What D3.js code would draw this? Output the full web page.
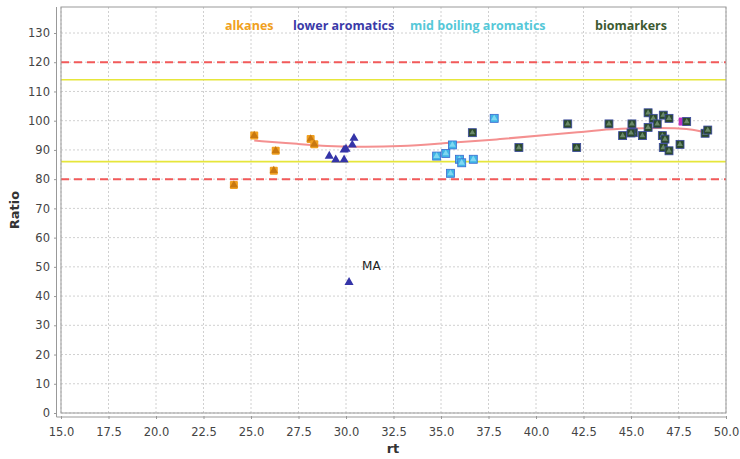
<!DOCTYPE html>
<html><head><meta charset="utf-8">
<script src="https://cdn.jsdelivr.net/npm/d3@7"></script>
<style>body{margin:0;background:#fff;font-family:"DejaVu Sans",sans-serif}</style>
</head><body><svg id="c" width="740" height="459"></svg>
<script>
const xTicks = [15.0,17.5,20.0,22.5,25.0,27.5,30.0,32.5,35.0,37.5,40.0,42.5,45.0,47.5,50.0];
const yTicks = [0,10,20,30,40,50,60,70,80,90,100,110,120,130];
const seriesNames = ["alkanes","lower aromatics","mid boiling aromatics","biomarkers"];
const seriesColors = ["#f0a020","#3a3aa8","#55c8d8","#3c5a30"];
const alkanes = [[24.1,78],[25.17,94.9],[26.3,89.7],[26.2,82.9],[28.14,93.7],[28.33,91.9]];
const lowerAromatics = [[29.12,87.9],[29.46,86.6],[29.9,86.6],[29.9,90],[30.0,90.3],[30.33,91.7],[30.42,94],[30.16,44.7]];
const midAromatics = [[34.77,87.9],[35.25,88.8],[35.6,91.7],[35.5,82],[35.97,86.8],[36.09,85.6],[36.7,86.8],[37.8,100.8]];
const biomarkers = [[36.65,95.9],[39.1,90.8],[41.67,98.9],[42.14,90.8],[43.84,98.9],[44.56,94.9],[45.05,98.9],[45.12,95.9],[45.0,95.8],[45.6,94.9],[45.9,102.7],[45.9,97.7],[46.17,100.8],[46.38,98.9],[46.7,101.9],[47.0,100.8],[46.65,94.9],[46.79,93.7],[46.7,90.8],[47.0,89.7],[47.58,91.9],[47.93,99.7],[48.9,95.7],[49.04,96.8]];
const otherPoints = [[47.72,99.7]];
const trend = [[25.17,93.2],[27.6,92.0],[29.0,91.3],[30.5,91.0],[32.8,91.1],[35.5,92.5],[38.1,93.6],[40.7,95.3],[42.3,96.0],[43.2,96.8],[44.95,97.4],[46.5,97.5],[47.6,97.4],[48.26,97.0],[48.8,96.2]];
const limitsRed = [80,120];
const limitsYellow = [86,114];
const annotation = {label:"MA", x:30.16, y:44.7};

const svg = d3.select("#c");
const L=61,R=726,T=7,B=413;
const x = d3.scaleLinear().domain([15,50]).range([L,R]);
const y = d3.scaleLinear().domain([0,130]).range([B,33]);

svg.append("rect").attr("x",L).attr("y",T).attr("width",R-L).attr("height",B-T).attr("fill","#fff");
svg.append("g").selectAll("line").data(xTicks).join("line")
  .attr("x1",d=>x(d)).attr("x2",d=>x(d)).attr("y1",T).attr("y2",B)
  .attr("stroke","#d0d0d0").attr("stroke-dasharray","2,2");
svg.append("g").selectAll("line").data(yTicks).join("line")
  .attr("y1",d=>y(d)).attr("y2",d=>y(d)).attr("x1",L).attr("x2",R)
  .attr("stroke","#d0d0d0").attr("stroke-dasharray","2,2");

svg.append("g").selectAll("line").data(limitsYellow).join("line")
  .attr("x1",L).attr("x2",R).attr("y1",d=>y(d)).attr("y2",d=>y(d))
  .attr("stroke","#e6e63a").attr("stroke-width",1.6);
svg.append("g").selectAll("line").data(limitsRed).join("line")
  .attr("x1",L).attr("x2",R).attr("y1",d=>y(d)).attr("y2",d=>y(d))
  .attr("stroke","#f25a5a").attr("stroke-width",2).attr("stroke-dasharray","8,5");

svg.append("rect").attr("x",L).attr("y",T).attr("width",R-L).attr("height",B-T)
  .attr("fill","none").attr("stroke","#999").attr("stroke-width",1);

const yAxis = d3.axisLeft(y).tickValues(yTicks).tickSize(3).tickPadding(4).tickFormat(d3.format("d"));
const gy = svg.append("g").attr("transform",`translate(${L-4},0)`).call(yAxis);
const xAxis = d3.axisBottom(x).tickValues(xTicks).tickSize(3).tickPadding(9).tickFormat(d3.format(".1f"));
const gx = svg.append("g").attr("transform",`translate(0,${B+3})`).call(xAxis);
[gx,gy].forEach(g=>{
  g.select(".domain").attr("stroke","#999");
  g.selectAll(".tick line").attr("stroke","#999");
  g.selectAll("text").attr("fill","#444").attr("font-size",11.5).attr("font-family","DejaVu Sans");
});
gy.select(".domain").attr("d",`M-0.5,${T}V${B+4}H${(R-L)+4}`).attr("fill","none");
gx.select(".domain").remove();

svg.append("text").attr("x",393).attr("y",453).attr("text-anchor","middle")
  .attr("font-size",13).attr("font-weight","bold").attr("fill","#333").text("rt");
svg.append("text").attr("transform","translate(19,210) rotate(-90)").attr("text-anchor","middle")
  .attr("font-size",13).attr("font-weight","bold").attr("fill","#333").text("Ratio");

svg.append("path").datum(trend)
  .attr("d",d3.line().x(d=>x(d[0])).y(d=>y(d[1])).curve(d3.curveBasis))
  .attr("fill","none").attr("stroke","#f49090").attr("stroke-width",2);

const tri = d3.symbol().type(d3.symbolTriangle).size(30);
const g = svg.append("g");
const ga = g.selectAll("g.a").data(alkanes).join("g").attr("transform",d=>`translate(${x(d[0])},${y(d[1])})`);
ga.append("rect").attr("x",-4).attr("y",-4).attr("width",8).attr("height",8).attr("fill","#f0a020").attr("rx",1);
ga.append("path").attr("d",tri).attr("fill","#c87810");
g.selectAll("path.l").data(lowerAromatics).join("path")
  .attr("transform",d=>`translate(${x(d[0])},${y(d[1])})`).attr("d",d3.symbol().type(d3.symbolTriangle).size(36)).attr("fill","#3434a8");
const gm = g.selectAll("g.m").data(midAromatics).join("g").attr("transform",d=>`translate(${x(d[0])},${y(d[1])})`);
gm.append("rect").attr("x",-4).attr("y",-4).attr("width",8).attr("height",8).attr("fill","#3fb4e6").attr("stroke","#3a6ad0").attr("stroke-width",0.8);
gm.append("path").attr("d",d3.symbol().type(d3.symbolTriangle).size(18)).attr("fill","#7fd8f0");
g.selectAll("rect.o").data(otherPoints).join("rect")
  .attr("x",d=>x(d[0])-4).attr("y",d=>y(d[1])-4).attr("width",8).attr("height",8).attr("fill","#c030c0");
const gb = g.selectAll("g.b").data(biomarkers).join("g").attr("transform",d=>`translate(${x(d[0])},${y(d[1])})`);
gb.append("rect").attr("x",-4).attr("y",-4).attr("width",8).attr("height",8).attr("fill","#2c4a2c").attr("stroke","#3a4aa0").attr("stroke-width",0.8);
gb.append("path").attr("d",d3.symbol().type(d3.symbolTriangle).size(14)).attr("fill","#6a8a6a");

svg.append("text").attr("x",x(annotation.x)+13).attr("y",y(annotation.y)-12)
  .attr("font-size",12).attr("fill","#222").text(annotation.label);

const legX = [225,293,410,595];
svg.append("g").selectAll("text").data(seriesNames).join("text")
  .attr("x",(d,i)=>legX[i]).attr("y",30).attr("font-size",12.5).attr("font-weight","bold")
  .attr("font-family","Open Sans, DejaVu Sans").attr("fill",(d,i)=>seriesColors[i]).text(d=>d);
</script></body></html>
